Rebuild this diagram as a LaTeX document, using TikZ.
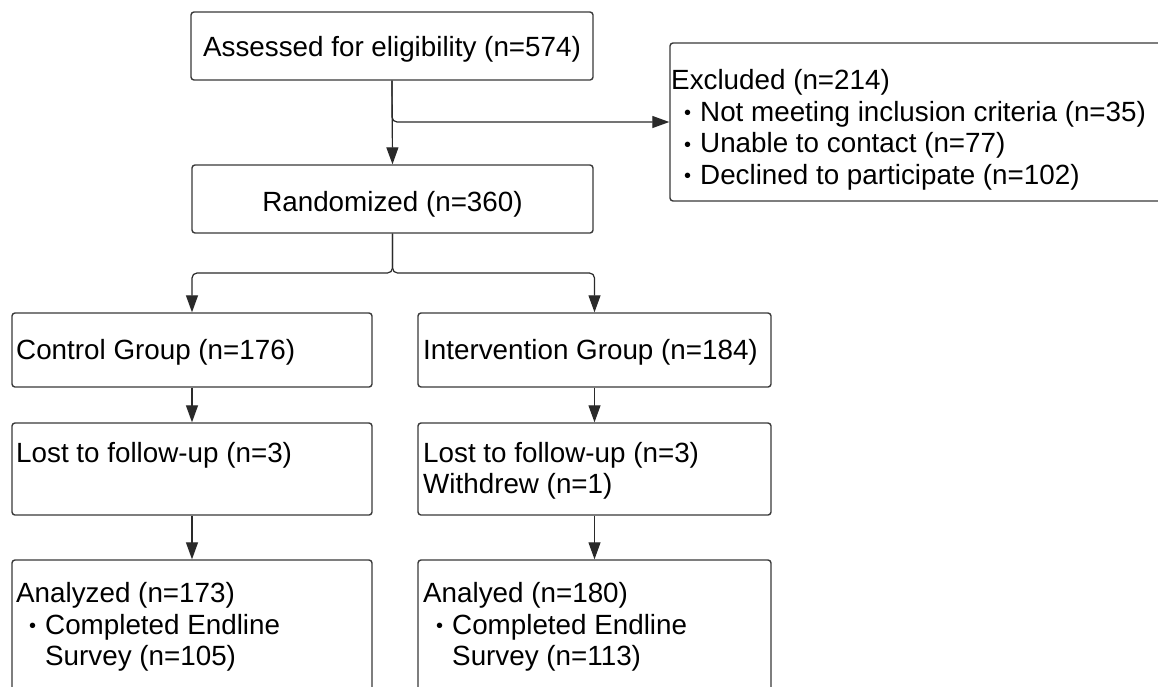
\documentclass[tikz,border=0pt]{standalone}
\usepackage{fontspec}
\setmainfont{Liberation Sans}
\usetikzlibrary{arrows.meta}
\definecolor{boxc}{HTML}{3A3A3A}
\definecolor{linec}{HTML}{2A2A2A}
\newcommand\fs{\fontsize{27.8}{32}\selectfont}
\newcommand\bul{\hspace{13pt}\raisebox{1.5pt}{\fontsize{20}{20}\selectfont •}\hspace{9pt}}
\newcommand\nobul{\hspace{13pt}\phantom{\fontsize{20}{20}\selectfont •}\hspace{9pt}}
\tikzset{
  box/.style={draw=boxc, line width=1.4pt, rounded corners=3pt, inner sep=0pt, fill=white},
  txt/.style={font=\fs, inner sep=0pt, anchor=base west, text=black},
  ctxt/.style={font=\fs, inner sep=0pt, anchor=base, text=black},
  arr/.style={draw=linec, line width=1.2pt, rounded corners=5pt, -{Triangle[length=17pt,width=12pt]}}
}
\begin{document}
\begin{tikzpicture}[x=1pt,y=-1pt]
\useasboundingbox (0,0) rectangle (1158,686);
\clip (0,0) rectangle (1158,686);
\fill[white] (0,0) rectangle (1158,686);
% boxes
\node[box, minimum width=402pt, minimum height=68pt] (ass) at (392,46) {};
\node[box, minimum width=500pt, minimum height=158pt] (exc) at (920,122) {};
\node[box, minimum width=401pt, minimum height=68pt] (rand) at (392.5,199) {};
\node[box, minimum width=360pt, minimum height=74pt] (ctrl) at (192,350) {};
\node[box, minimum width=353pt, minimum height=74pt] (intv) at (594.5,350) {};
\node[box, minimum width=360pt, minimum height=92pt] (lostc) at (192,469) {};
\node[box, minimum width=353pt, minimum height=92pt] (losti) at (594.5,469) {};
\node[box, minimum width=360pt, minimum height=160pt] (anac) at (192,640) {};
\node[box, minimum width=353pt, minimum height=160pt] (anai) at (594.5,640) {};
% texts
\node[ctxt] (tass) at (392,56) {Assessed for eligibility (n=574)};
\node[ctxt] (trand) at (392.5,211) {Randomized (n=360)};
\node[txt] (te1) at (671,89) {Excluded (n=214)};
\node[txt] (te2) at (671,121) {\bul Not meeting inclusion criteria (n=35)};
\node[txt] (te3) at (671,152.5) {\bul Unable to contact (n=77)};
\node[txt] (te4) at (671,184) {\bul Declined to participate (n=102)};
\node[txt] (tctrl) at (16,359.5) {Control Group (n=176)};
\node[txt] (tintv) at (423,359.5) {Intervention Group (n=184)};
\node[txt] (tlc) at (16,462) {Lost to follow-up (n=3)};
\node[txt] (tli1) at (423,462) {Lost to follow-up (n=3)};
\node[txt] (tli2) at (423,493) {Withdrew (n=1)};
\node[txt] (tac1) at (16,602) {Analyzed (n=173)};
\node[txt] (tac2) at (16,634) {\bul Completed Endline};
\node[txt] (tac3) at (16,665.5) {\nobul Survey (n=105)};
\node[txt] (tai1) at (423,602) {Analyed (n=180)};
\node[txt] (tai2) at (423,634) {\bul Completed Endline};
\node[txt] (tai3) at (423,665.5) {\nobul Survey (n=113)};
% connectors
\coordinate (br) at (392.5,273);
\draw[arr] (ass.south) -- (rand.north);
\draw[arr] (ass.south) |- (exc.west);
\draw[arr] (rand.south) -- (br) -| (ctrl.north);
\draw[arr] (rand.south) -- (br) -| (intv.north);
\draw[arr] (ctrl.south) -- (lostc.north);
\draw[arr] (intv.south) -- (losti.north);
\draw[arr] (lostc.south) -- (anac.north);
\draw[arr] (losti.south) -- (anai.north);
\end{tikzpicture}
\end{document}
